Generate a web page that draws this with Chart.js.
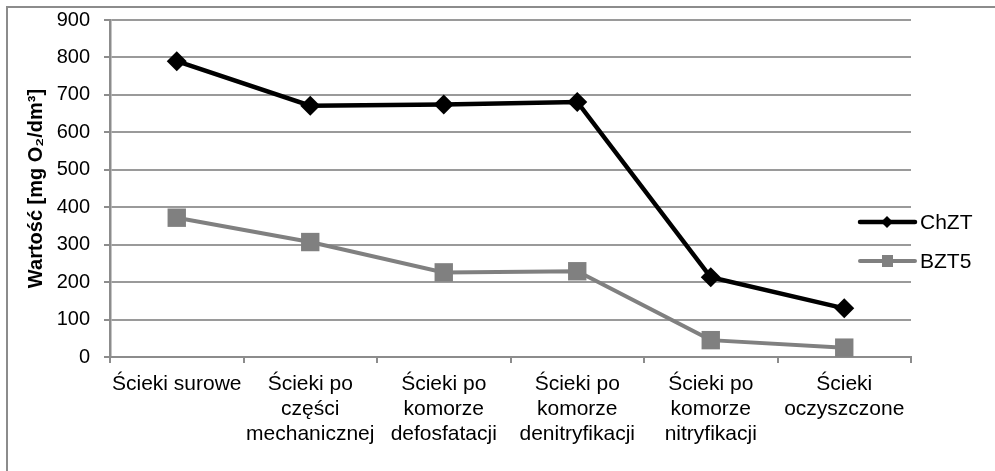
<!DOCTYPE html>
<html>
<head>
<meta charset="utf-8">
<script src="https://cdn.jsdelivr.net/npm/chart.js@4.4.0/dist/chart.umd.min.js"></script>
<style>
  body { margin: 0; background: #fff; }
  #wrap { width: 995px; height: 471px; }
</style>
</head>
<body>
<div id="wrap"><canvas id="myChart" width="995" height="471"></canvas></div>
<script>
// categories (multi-line labels)
var categories = [
    ['Ścieki surowe'],
    ['Ścieki po', 'części', 'mechanicznej'],
    ['Ścieki po', 'komorze', 'defosfatacji'],
    ['Ścieki po', 'komorze', 'denitryfikacji'],
    ['Ścieki po', 'komorze', 'nitryfikacji'],
    ['Ścieki', 'oczyszczone']
];
var chztValues = [790, 671, 674, 681, 213, 130];
var bzt5Values = [372, 307, 226, 229, 45, 25];
var yTicks = [0, 100, 200, 300, 400, 500, 600, 700, 800, 900];

// frame round the whole chart
var framePlugin = {
    id: 'frame',
    beforeDraw: function (chart) {
        var ctx = chart.ctx;
        ctx.save();
        ctx.fillStyle = '#fff';
        ctx.fillRect(0, 0, chart.width, chart.height);
        ctx.strokeStyle = '#8c8c8c';
        ctx.lineWidth = 2;
        ctx.strokeRect(7, 7, chart.width + 20, chart.height + 20);
        ctx.restore();
    }
};

// legend on the right: line + marker + text
var legendPlugin = {
    id: 'sideLegend',
    afterDraw: function (chart) {
        var ctx = chart.ctx;
        var x0 = chart.chartArea.right - 51;
        var rows = [222, 261];
        ctx.save();
        chart.data.datasets.forEach(function (ds, i) {
            var y = rows[i];
            ctx.strokeStyle = ds.borderColor;
            ctx.lineWidth = ds.borderWidth;
            ctx.lineCap = 'round';
            ctx.beginPath();
            ctx.moveTo(x0, y);
            ctx.lineTo(x0 + 55, y);
            ctx.stroke();
            ctx.fillStyle = ds.borderColor;
            if (ds.pointStyle === 'rectRot') {
                ctx.beginPath();
                ctx.moveTo(x0 + 27, y - 6);
                ctx.lineTo(x0 + 33, y);
                ctx.lineTo(x0 + 27, y + 6);
                ctx.lineTo(x0 + 21, y);
                ctx.closePath();
                ctx.fill();
            } else {
                ctx.fillRect(x0 + 22, y - 6, 11, 12);
            }
            ctx.fillStyle = '#000';
            ctx.font = '21px "Liberation Sans", Arial, sans-serif';
            ctx.textBaseline = 'middle';
            ctx.textAlign = 'left';
            ctx.fillText(ds.label, x0 + 60, y + 1);
        });
        ctx.restore();
    }
};

var ctx = document.getElementById('myChart');
var chart = new Chart(ctx, {
    type: 'line',
    data: {
        labels: categories,
        datasets: [{
            label: 'ChZT',
            data: chztValues,
            borderColor: '#000000',
            backgroundColor: '#000000',
            borderWidth: 4.5,
            pointStyle: 'rectRot',
            pointRadius: 10,
            pointBorderWidth: 0,
            tension: 0
        }, {
            label: 'BZT5',
            data: bzt5Values,
            borderColor: '#808080',
            backgroundColor: '#808080',
            borderWidth: 4,
            pointStyle: 'rect',
            pointRadius: 13,
            pointBorderWidth: 0,
            tension: 0
        }]
    },
    options: {
        responsive: false,
        devicePixelRatio: 1,
        animation: false,
        layout: { padding: { left: 0, right: 84, top: 20, bottom: 0 } },
        plugins: {
            legend: { display: false },
            tooltip: { enabled: false }
        },
        scales: {
            x: {
                offset: true,
                grid: {
                    offset: true,
                    drawOnChartArea: false,
                    drawTicks: true,
                    tickLength: 6,
                    color: '#8c8c8c',
                    lineWidth: 2
                },
                border: { color: '#8c8c8c', width: 2 },
                ticks: {
                    color: '#000',
                    padding: 9,
                    maxRotation: 0,
                    autoSkip: false,
                    font: { family: '"Liberation Sans", Arial, sans-serif', size: 21, lineHeight: 1.18 }
                },
                afterFit: function (scale) { scale.height = 114; }
            },
            y: {
                min: 0,
                max: 900,
                afterBuildTicks: function (scale) {
                    scale.ticks = yTicks.map(function (v) { return { value: v }; });
                },
                grid: {
                    color: '#9a9a9a',
                    lineWidth: 2,
                    drawTicks: true,
                    tickLength: 6,
                    tickColor: '#8c8c8c'
                },
                border: { color: '#8c8c8c', width: 2.5 },
                ticks: {
                    color: '#000',
                    padding: 14,
                    font: { family: '"Liberation Sans", Arial, sans-serif', size: 20 }
                },
                title: {
                    display: true,
                    text: 'Wartość [mg O₂/dm³]',
                    color: '#000',
                    padding: { top: 24, bottom: 0 },
                    font: { family: '"Liberation Sans", Arial, sans-serif', size: 20, weight: 'bold' }
                },
                afterFit: function (scale) {
                    scale.width = 110;
                    scale.paddingTop = 0;
                    scale.paddingBottom = 0;
                }
            }
        }
    },
    plugins: [framePlugin, legendPlugin]
});
</script>
</body>
</html>
